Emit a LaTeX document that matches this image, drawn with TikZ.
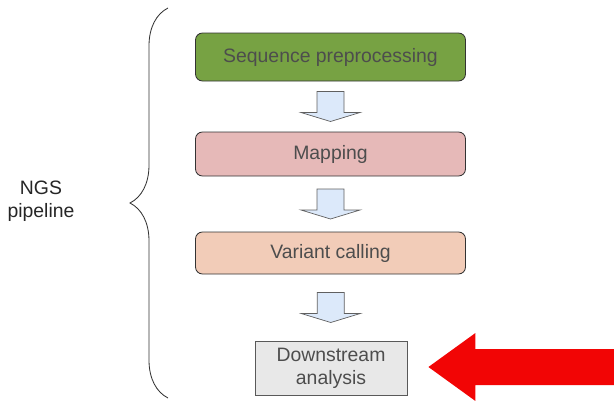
\documentclass[tikz,border=0pt]{standalone}
\usepackage{fontspec}
\setmainfont{Liberation Sans}
\usetikzlibrary{calc,decorations.pathreplacing}
\definecolor{ngsInk}{HTML}{333333}
\definecolor{ngsText}{HTML}{4D4D4D}
\definecolor{ngsGreen}{HTML}{77A243}
\definecolor{ngsPink}{HTML}{E6B9B8}
\definecolor{ngsPeach}{HTML}{F2CCB8}
\definecolor{ngsGrey}{HTML}{E8E8E8}
\definecolor{ngsBlue}{HTML}{DCE9FA}
\definecolor{ngsRed}{HTML}{F20505}

\begin{document}
\begin{tikzpicture}[
  x=0.25mm, y=-0.25mm,
  font=\fontsize{13.8}{16.3}\selectfont,
  stage/.style={draw=ngsInk, rounded corners=1.75mm, text=ngsText, align=center,
                minimum width=67.5mm, inner sep=0pt, line width=0.6pt},
  flow/.style={draw=gray!75!black, fill=ngsBlue, line width=0.5pt},
  bracket/.style={draw=ngsInk, line width=0.6pt,
                  decorate, decoration={brace, amplitude=9.5mm}},
]
\useasboundingbox (0,0) rectangle (614,400);
\node[stage, fill=ngsGreen, minimum height=12mm] (prep) at (330.5,57) {Sequence preprocessing};
\node[stage, fill=ngsPink, minimum height=11mm] (map) at (330.5,154) {Mapping};
\node[stage, fill=ngsPeach, minimum height=10.5mm] (var) at (330.5,253) {Variant calling};
\node[stage, fill=ngsGrey, draw=gray!70!black, rounded corners=0pt,
      minimum width=38mm, minimum height=13.5mm] (down) at (331,368) {Downstream\\analysis};
\node[align=center, text=black!85] (ngs) at (41,201) {NGS\\pipeline};
% block arrows between the stages
\foreach \a/\b in {prep/map, map/var, var/down} {
  \coordinate (m) at ($(\a.south)!0.5!(\b.north)$);
  \draw[flow] ($(m)+(-13.5,-15)$) -- ($(m)+(13.5,-15)$) -- ($(m)+(13.5,6)$)
    -- ($(m)+(29.5,6)$) -- ($(m)+(0,15)$) -- ($(m)+(-29.5,6)$)
    -- ($(m)+(-13.5,6)$) -- cycle;
}
% red pointer
\coordinate (hit) at ($(down.east)+(21,-1)$);
\fill[ngsRed] (hit) -- ++(47,-34) -- ++(0,16) -- ++(200,0) -- ++(0,36)
  -- ++(-200,0) -- ++(0,16) -- cycle;
% brace
\coordinate (bot) at (168,398);
\coordinate (top) at (168,8);
\draw[bracket] (bot) -- (top);
\end{tikzpicture}
\end{document}
